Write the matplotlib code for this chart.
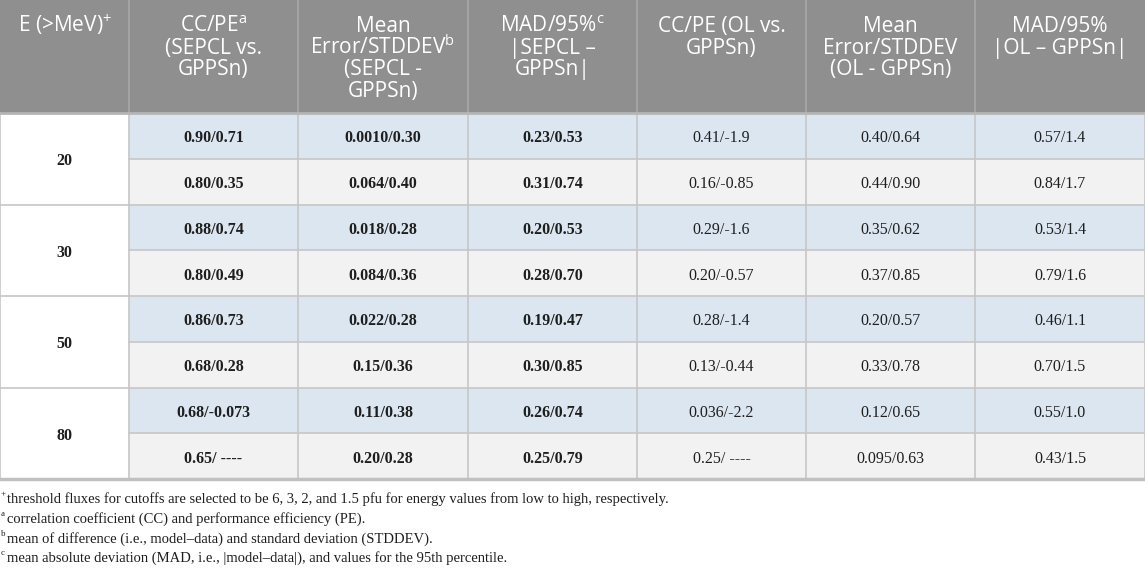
import matplotlib
matplotlib.use('Agg')
import matplotlib.pyplot as plt
from matplotlib.patches import Rectangle

### Table content
energies = ['20', '30', '50', '80']
headers = [['E (>MeV)$^{+}$'],
           ['CC/PE$^{\\mathrm{a}}$', '(SEPCL vs.', 'GPPSn)'],
           ['Mean', 'Error/STDDEV$^{\\mathrm{b}}$', '(SEPCL -', 'GPPSn)'],
           ['MAD/95%$^{\\mathrm{c}}$', '|SEPCL \u2013', 'GPPSn|'],
           ['CC/PE (OL vs.', 'GPPSn)'],
           ['Mean', 'Error/STDDEV', '(OL - GPPSn)'],
           ['MAD/95%', '|OL \u2013 GPPSn|']]
cc_pe_sepcl = ['0.90/0.71', '0.80/0.35', '0.88/0.74', '0.80/0.49',
               '0.86/0.73', '0.68/0.28', '0.68/-0.073', '0.65/ ----']
me_sepcl = ['0.0010/0.30', '0.064/0.40', '0.018/0.28', '0.084/0.36',
            '0.022/0.28', '0.15/0.36', '0.11/0.38', '0.20/0.28']
mad_sepcl = ['0.23/0.53', '0.31/0.74', '0.20/0.53', '0.28/0.70',
             '0.19/0.47', '0.30/0.85', '0.26/0.74', '0.25/0.79']
cc_pe_ol = ['0.41/-1.9', '0.16/-0.85', '0.29/-1.6', '0.20/-0.57',
            '0.28/-1.4', '0.13/-0.44', '0.036/-2.2', '0.25/ ----']
me_ol = ['0.40/0.64', '0.44/0.90', '0.35/0.62', '0.37/0.85',
         '0.20/0.57', '0.33/0.78', '0.12/0.65', '0.095/0.63']
mad_ol = ['0.57/1.4', '0.84/1.7', '0.53/1.4', '0.79/1.6',
          '0.46/1.1', '0.70/1.5', '0.55/1.0', '0.43/1.5']
footnotes = [('+', 'threshold fluxes for cutoffs are selected to be 6, 3, 2, and 1.5 pfu for energy values from low to high, respectively.'),
             ('a', 'correlation coefficient (CC) and performance efficiency (PE).'),
             ('b', 'mean of difference (i.e., model\u2013data) and standard deviation (STDDEV).'),
             ('c', 'mean absolute deviation (MAD, i.e., |model\u2013data|), and values for the 95th percentile.')]

### Layout (pixels)
col_w = [129, 169, 170, 169, 169, 169, 170]
head_h = 113
row_h = 45.75
head_base = 32      # baseline of first header line
head_step = 21.7    # header line spacing
c_head = '#8f8f8f'
c_blue = '#dce6f1'
c_gray = '#f2f2f2'
c_line = '#c6c6c6'

plt.rcParams['mathtext.fontset'] = 'custom'
plt.rcParams['mathtext.rm'] = 'Open Sans'
plt.rcParams['mathtext.it'] = 'Open Sans:italic'

def main():
    fig = plt.figure(figsize=(11.45, 5.69), dpi=100)
    ax = fig.add_axes([0, 0, 1, 1])
    ax.set_xlim(0, 1145)
    ax.set_ylim(569, 0)
    ax.axis('off')

    xs = [0]
    for w in col_w:
        xs.append(xs[-1] + w)
    total_w = xs[-1]
    nrow = len(cc_pe_sepcl)
    table_bot = head_h + nrow * row_h

    ##-- Header
    ax.add_patch(Rectangle((0, 0), total_w, head_h, fc=c_head, ec='none'))
    for j, lines in enumerate(headers):
        for k, ln in enumerate(lines):
            ax.text((xs[j] + xs[j+1]) / 2, head_base + k * head_step, ln, ha='center',
                    va='baseline', color='white', fontsize=15, family='Open Sans')
        if j > 0:
            ax.plot([xs[j], xs[j]], [0, head_h], c='#a9a9a9', lw=1.2)

    ##-- Body
    cols = [cc_pe_sepcl, me_sepcl, mad_sepcl, cc_pe_ol, me_ol, mad_ol]
    for i in range(nrow):
        y0 = head_h + i * row_h
        fc = c_blue if i % 2 == 0 else c_gray
        ax.add_patch(Rectangle((xs[1], y0), total_w - xs[1], row_h, fc=fc, ec='none'))
        for j, col in enumerate(cols):
            ax.text((xs[j+1] + xs[j+2]) / 2, y0 + row_h / 2 + 2.5, col[i], ha='center', va='center',
                    fontsize=11.5, family='Liberation Serif',
                    fontweight='bold' if j < 3 else 'normal', color='#1e1e1e')
        ax.plot([xs[1], total_w], [y0 + row_h, y0 + row_h], c=c_line, lw=1.2)

    for k, e in enumerate(energies):
        y0 = head_h + 2 * k * row_h
        ax.text(xs[1] / 2, y0 + row_h + 2.5, e, ha='center', va='center', fontsize=11.5,
                family='Liberation Serif', fontweight='bold', color='#1e1e1e')
        ax.plot([0, xs[1]], [y0 + 2 * row_h, y0 + 2 * row_h], c=c_line, lw=1.2)

    for j in range(1, len(xs)):
        ax.plot([xs[j], xs[j]], [head_h, table_bot], c=c_line, lw=1.2)
    ax.plot([0, 0], [head_h, table_bot], c=c_line, lw=1.2)
    ax.plot([0, total_w], [head_h, head_h], c='#b5b5b5', lw=2)
    ax.plot([0, total_w], [table_bot, table_bot], c='#c0c0c0', lw=2.5)

    ##-- Footnotes
    for k, (mk, txt) in enumerate(footnotes):
        yl = table_bot + 20 + k * 19.8
        ax.text(1, yl - 5, mk, ha='left', va='center', fontsize=6.5,
                family='Liberation Serif', color='#1e1e1e')
        ax.text(7, yl, txt, ha='left', va='center', fontsize=10.55,
                family='Liberation Serif', color='#1e1e1e')

    fig.savefig('out.png', dpi=100)
    return

if __name__ == "__main__":
    main()
